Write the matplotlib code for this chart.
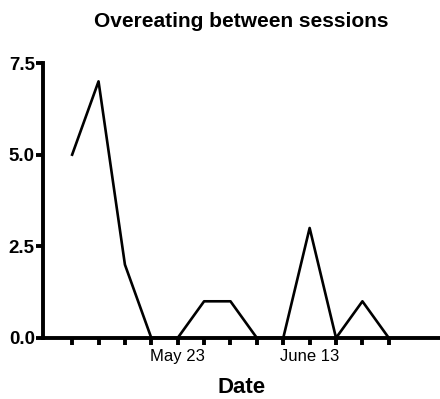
import matplotlib.pyplot as plt

plt.rcParams["font.family"] = ["Liberation Sans", "DejaVu Sans"]

# one value per session
episodes = [5, 7, 2, 0, 0, 1, 1, 0, 0, 3, 0, 1, 0]
date_labels = ["", "", "", "", "May 23", "", "", "", "", "June 13", "", "", ""]
y_ticks = [0.0, 2.5, 5.0, 7.5]

fig = plt.figure(figsize=(4.40, 3.99), dpi=100)
ax = fig.add_axes([0.098, 0.153, 0.902, 0.689])

x = list(range(len(episodes)))
ax.plot(x, episodes, color="black", linewidth=1.9, clip_on=False)

ax.set_xlim(-1.1, 13.94)
ax.set_ylim(0, 7.5)
ax.set_xticks(x)
ax.set_xticklabels(date_labels, fontsize=12)
ax.set_yticks(y_ticks)
ax.set_yticklabels([f"{v:.1f}" for v in y_ticks], fontsize=13.5, fontweight="bold")

for side in ["top", "right"]:
    ax.spines[side].set_visible(False)
for side in ["left", "bottom"]:
    ax.spines[side].set_linewidth(2.8)
ax.tick_params(axis="y", direction="out", length=5, width=2.8, pad=1)
ax.tick_params(axis="x", direction="out", length=5, width=2.8, pad=3)

ax.set_title("Overeating between sessions", fontsize=15, fontweight="bold", pad=26)
ax.set_xlabel("Date", fontsize=16, fontweight="bold", labelpad=9)

fig.savefig("out.png", dpi=100)
